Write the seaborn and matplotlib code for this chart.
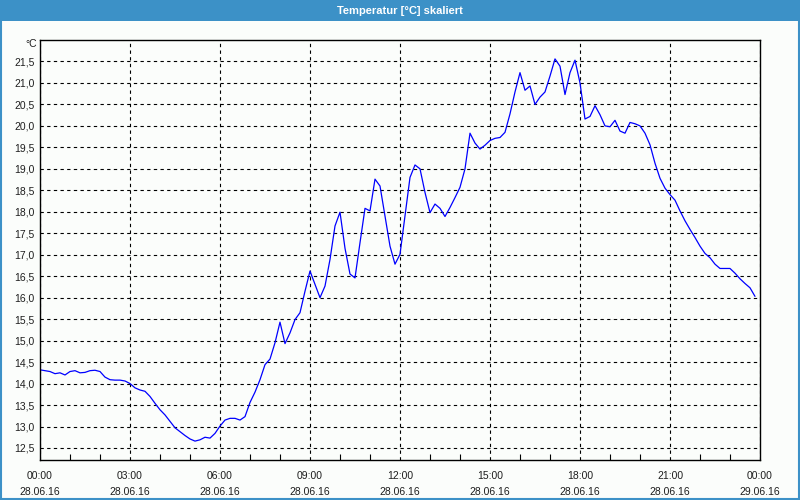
import numpy as np
import pandas as pd
import matplotlib
matplotlib.use("Agg")
import matplotlib.pyplot as plt
import matplotlib.dates as mdates
from matplotlib.patches import Rectangle
import seaborn as sns

# ---- data (10-minute readings, 28.06.16 00:00 .. 23:50) ----
start_time = "2016-06-28 00:00"
end_time = "2016-06-29 00:00"
temperature = [
    14.32, 14.30, 14.28, 14.23, 14.25, 14.20, 14.28, 14.30, 14.25, 14.26,
    14.30, 14.31, 14.28, 14.15, 14.09, 14.08, 14.08, 14.06, 14.00, 13.90,
    13.85, 13.82, 13.70, 13.54, 13.39, 13.27, 13.12, 12.97, 12.88, 12.79,
    12.71, 12.66, 12.69, 12.75, 12.73, 12.84, 13.01, 13.15, 13.19, 13.19,
    13.15, 13.23, 13.56, 13.80, 14.09, 14.44, 14.57, 14.95, 15.43, 14.93,
    15.18, 15.49, 15.65, 16.15, 16.62, 16.31, 16.00, 16.27, 16.89, 17.67,
    17.99, 17.15, 16.55, 16.46, 17.28, 18.08, 18.02, 18.76, 18.60, 17.90,
    17.20, 16.78, 17.01, 17.90, 18.80, 19.09, 19.00, 18.45, 17.98, 18.18,
    18.08, 17.89, 18.10, 18.33, 18.57, 19.00, 19.83, 19.60, 19.46, 19.55,
    19.66, 19.71, 19.73, 19.85, 20.28, 20.79, 21.24, 20.83, 20.93, 20.50,
    20.67, 20.79, 21.16, 21.56, 21.39, 20.73, 21.24, 21.53, 21.00, 20.16,
    20.22, 20.47, 20.26, 20.00, 19.98, 20.13, 19.88, 19.83, 20.08, 20.05,
    20.00, 19.83, 19.56, 19.13, 18.78, 18.55, 18.40, 18.27, 18.02, 17.79,
    17.59, 17.40, 17.20, 17.03, 16.93, 16.78, 16.68, 16.68, 16.68, 16.57,
    16.44, 16.33, 16.23, 16.03,
]
times = pd.date_range(start_time, periods=len(temperature), freq="10min")
y_ticks = [12.5, 13.0, 13.5, 14.0, 14.5, 15.0, 15.5, 16.0, 16.5, 17.0,
           17.5, 18.0, 18.5, 19.0, 19.5, 20.0, 20.5, 21.0, 21.5]
title = "Temperatur [°C] skaliert"
unit = "°C"

df = pd.DataFrame({"time": times, "temp": temperature})

sns.set_theme(style="white")
plt.rcParams["font.family"] = ["Liberation Sans", "DejaVu Sans"]

bg = "#fbfdfb"
txt = "#1e1e1e"
fig = plt.figure(figsize=(8, 5), dpi=100, facecolor=bg)
ax = fig.add_axes([0.05, 0.08, 0.90, 0.84])
ax.set_facecolor(bg)

sns.lineplot(data=df, x="time", y="temp", ax=ax, color="#0000ff",
             linewidth=0.9, legend=False)

ax.set_xlim(pd.Timestamp(start_time), pd.Timestamp(end_time))
ax.set_ylim(12.22, 22.0)
ax.set_yticks(y_ticks)
ax.set_yticklabels([f"{v:.1f}".replace(".", ",") for v in y_ticks])

ax.xaxis.set_major_locator(mdates.HourLocator(byhour=range(0, 24, 3)))
ax.xaxis.set_minor_locator(mdates.HourLocator())
ax.xaxis.set_major_formatter(mdates.DateFormatter("%H:%M\n%d.%m.%y"))

ax.grid(True, which="major", color="black", linestyle=(0, (3, 3)), linewidth=0.8)
ax.set_axisbelow(True)
for s in ax.spines.values():
    s.set_color("black")
    s.set_linewidth(1.0)
    s.set_visible(True)

ax.tick_params(axis="x", which="both", direction="in", colors="black",
               labelsize=7.5, labelcolor=txt, pad=8)
ax.tick_params(axis="x", which="major", length=0)
ax.tick_params(axis="x", which="minor", length=4, width=0.8, bottom=True)
ax.tick_params(axis="y", which="both", length=0, labelsize=7.5,
               labelcolor=txt, pad=4)
for lbl in ax.get_xticklabels():
    lbl.set_linespacing(1.7)

ax.set_xlabel("")
ax.set_ylabel("")
fig.text(0.046, 0.912, unit, ha="right", va="center", fontsize=7.5, color=txt)

# title bar and frame
fig.patches.append(Rectangle((0, 0.959), 1, 0.041, transform=fig.transFigure,
                             facecolor="#3c91c7", edgecolor="none", zorder=0))
fig.patches.append(Rectangle((0.001, 0.002), 0.998, 0.997, transform=fig.transFigure,
                             facecolor="none", edgecolor="#3c91c7", linewidth=1.5, zorder=1))
fig.text(0.5, 0.979, title, ha="center", va="center", fontsize=8,
         fontweight="bold", color="white")

fig.savefig("out.png", dpi=100, facecolor=bg)
